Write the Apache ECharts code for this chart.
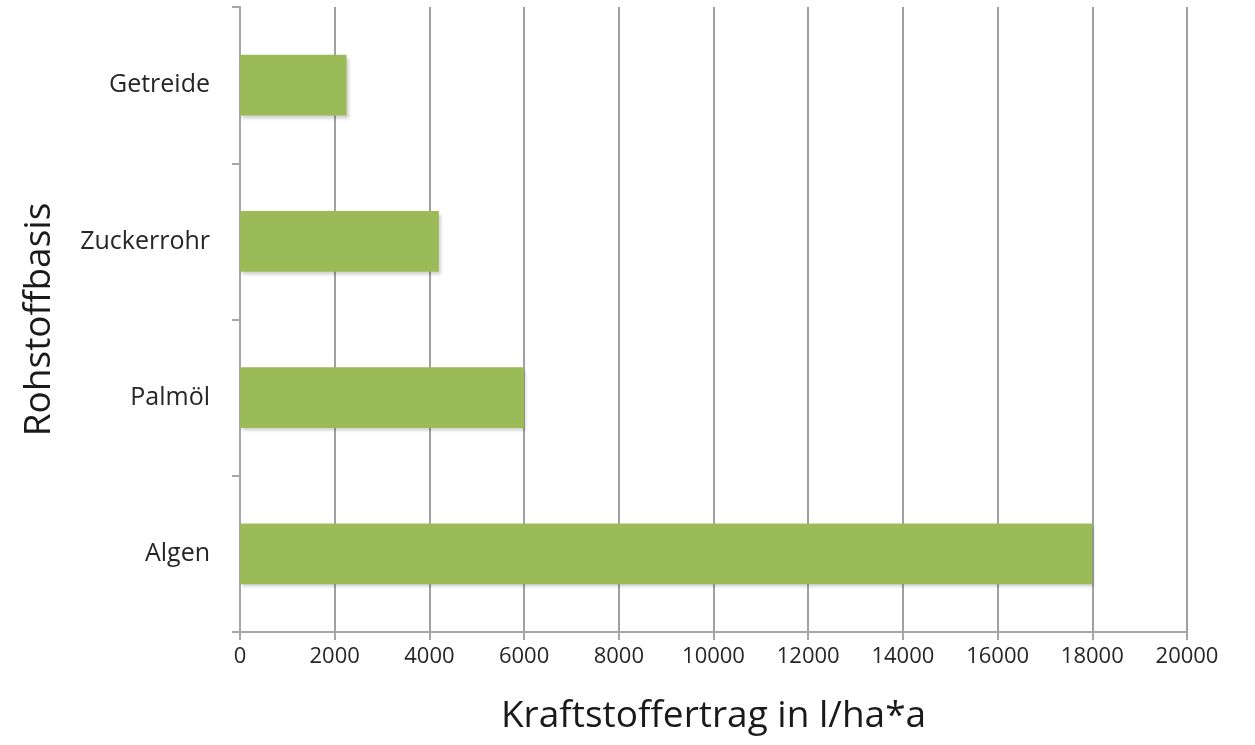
<!DOCTYPE html>
<html><head><meta charset="utf-8">
<script src="https://cdn.jsdelivr.net/npm/echarts@6/dist/echarts.min.js"></script>
<style>html,body{margin:0;padding:0;background:#fff}#c{width:1255px;height:745px}</style>
</head><body><div id="c"></div>
<script>
const categories = ['Getreide', 'Zuckerrohr', 'Palmöl', 'Algen'];
const values = [2250, 4200, 6000, 18000];
const xAxisTitle = 'Kraftstoffertrag in l/ha*a';
const yAxisTitle = 'Rohstoffbasis';

const chart = echarts.init(document.getElementById('c'), null, {renderer: 'canvas'});
const font = '"Open Sans", "Noto Sans", sans-serif';
chart.setOption({
  backgroundColor: '#fff',
  animation: false,
  grid: {left: 240, right: 68, top: 7, bottom: 113},
  xAxis: {
    type: 'value', min: 0, max: 20000, interval: 2000,
    name: xAxisTitle, nameLocation: 'middle', nameGap: 66,
    nameTextStyle: {fontFamily: font, fontSize: 37, color: '#1a1a1a'},
    axisLine: {show: true, lineStyle: {color: '#a6a6a6', width: 2}},
    axisTick: {show: true, length: 8, lineStyle: {color: '#a6a6a6', width: 2}},
    axisLabel: {fontFamily: font, fontSize: 22, color: '#262626', margin: 14, formatter: v => String(v)},
    splitLine: {show: true, lineStyle: {color: '#a0a0a0', width: 2}}
  },
  yAxis: {
    type: 'category', data: categories, inverse: true,
    name: yAxisTitle, nameLocation: 'middle', nameGap: 182, nameRotate: 90,
    nameTextStyle: {fontFamily: font, fontSize: 37, color: '#1a1a1a'},
    axisLine: {show: true, lineStyle: {color: '#a6a6a6', width: 2}},
    axisTick: {show: true, length: 8, lineStyle: {color: '#a6a6a6', width: 2}},
    axisLabel: {fontFamily: font, fontSize: 25, color: '#262626', margin: 30}
  },
  series: [{
    type: 'bar', data: values, barCategoryGap: '61%',
    itemStyle: {color: '#9bbb59', shadowColor: 'rgba(0,0,0,0.18)', shadowBlur: 3, shadowOffsetX: 2, shadowOffsetY: 3}
  }]
});
</script></body></html>
